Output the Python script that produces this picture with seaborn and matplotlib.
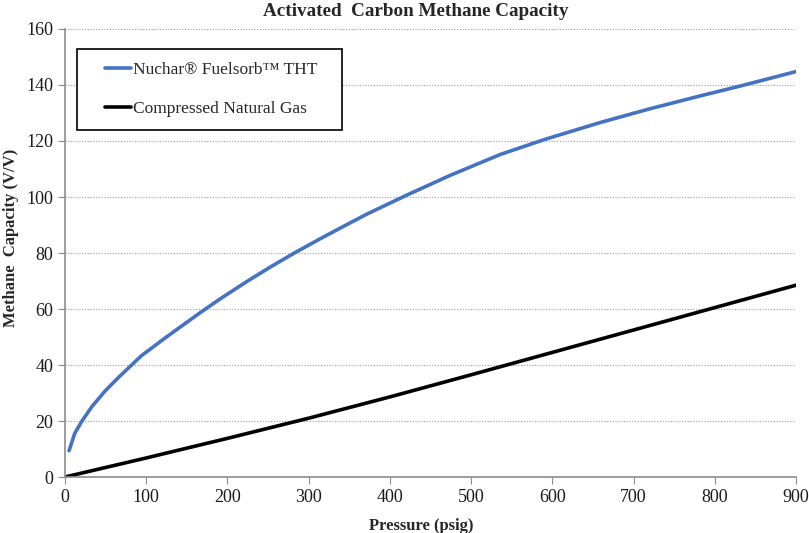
import pandas as pd
import matplotlib.pyplot as plt
import seaborn as sns

# Values
thtpressure = [5, 12, 20.5, 33, 49, 66, 82, 94, 123, 144, 168, 193, 226, 254, 283, 320,
               371, 421, 474, 536, 591, 659, 720, 782, 835, 900]
thtcapacity = [9.4, 15.6, 19.8, 25.1, 30.6, 35.6, 40.0, 43.3, 49.6, 54.0, 59.0, 64.0, 70.2, 75.2, 80.1, 86.0,
               93.8, 100.7, 107.7, 115.2, 120.6, 126.6, 131.5, 136.1, 139.9, 144.8]
cngpressure = [0, 100, 200, 300, 400, 500, 600, 700, 800, 900]
cngcapacity = [0, 6.8, 13.8, 21, 28.6, 36.5, 44.5, 52.5, 60.5, 68.5]

tht_df = pd.DataFrame({'Pressure': thtpressure, 'Capacity': thtcapacity})
cng_df = pd.DataFrame({'Pressure': cngpressure, 'Capacity': cngcapacity})

sns.set_style('white')
plt.rcParams['font.family'] = ['Liberation Serif', 'DejaVu Serif']

fig = plt.figure(figsize=(8.09, 5.33), dpi=100)
ax = fig.add_axes([65 / 809, 1 - 477 / 533, (796 - 65) / 809, (477 - 29) / 533])

sns.lineplot(data=tht_df, x='Pressure', y='Capacity', ax=ax, color='#4472c4', linewidth=2.6,
             label='Nuchar® Fuelsorb™ THT', solid_joinstyle='round', solid_capstyle='round')
sns.lineplot(data=cng_df, x='Pressure', y='Capacity', ax=ax, color='black', linewidth=2.6,
             label='Compressed Natural Gas', solid_joinstyle='round')

ax.set_xlim(0, 900)
ax.set_ylim(0, 160)
ax.set_xticks(range(0, 901, 100))
ax.set_yticks(range(0, 161, 20))
ax.yaxis.grid(True, linestyle=(0, (1, 1.5)), color='#999999', linewidth=0.8)
ax.xaxis.grid(False)
ax.set_axisbelow(True)

for side in ['top', 'right']:
    ax.spines[side].set_visible(False)
for side in ['left', 'bottom']:
    ax.spines[side].set_color('#8c8c8c')
    ax.spines[side].set_linewidth(1.2)

ax.tick_params(axis='both', which='major', labelsize=13, length=5, direction='out',
               left=True, bottom=True, colors='#8c8c8c', labelcolor='#1a1a1a')

fig.text(416 / 809, 1 - 3 / 533, 'Activated  Carbon Methane Capacity', fontsize=13.8,
         fontweight='bold', ha='center', va='top')
ax.set_xlabel('Pressure (psig)', fontsize=12, fontweight='bold')
ax.xaxis.set_label_coords(0.488, -0.0915)
ax.set_ylabel('Methane  Capacity (V/V)', fontsize=12, fontweight='bold')
ax.yaxis.set_label_coords(-0.063, 0.533)

leg = ax.legend(loc='upper left', bbox_to_anchor=(12 / 731, 0.5, 265 / 731, 1 - 20 / 448 - 0.5),
                mode='expand', fontsize=12.5, frameon=True, fancybox=False,
                edgecolor='black', framealpha=1, handlelength=2.4, handletextpad=0.1,
                labelspacing=1.35, borderpad=0.72, borderaxespad=0)
leg.get_frame().set_linewidth(1.2)
# shorter handle lines, pushed to the right like the reference legend
for line in leg.get_lines():
    xd = line.get_xdata()
    line.set_xdata([xd[0] + 0.36 * (xd[-1] - xd[0]), xd[-1]])
    line.set_ydata([line.get_ydata()[0]] * 2)

plt.savefig('out.png', dpi=100)
